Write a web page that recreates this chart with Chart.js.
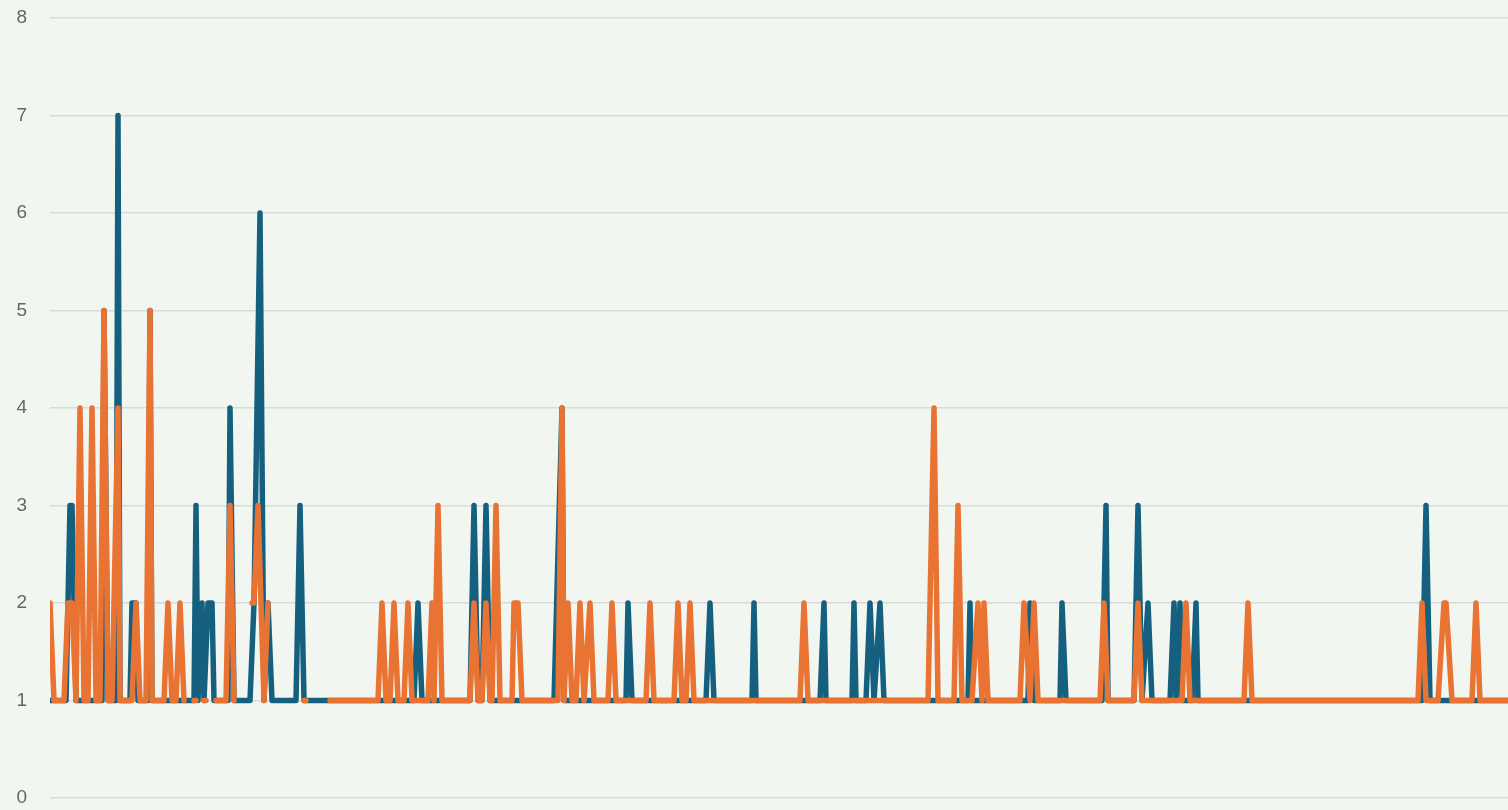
<!DOCTYPE html>
<html>
<head>
<meta charset="utf-8">
<script src="https://cdn.jsdelivr.net/npm/chart.js@4/dist/chart.umd.min.js"></script>
<style>
  html, body { margin: 0; padding: 0; background: #f2f6f1; }
  #wrap { width: 1508px; height: 810px; position: relative; }
</style>
</head>
<body>
<div id="wrap"><canvas id="chart"></canvas></div>
<script>
// sample index (0..729) and value at each vertex; the line is flat between listed vertices
const blueX = [0, 8, 10, 11, 13, 26, 27, 29, 33, 34, 35, 40, 41, 43, 44, 49, 50, 51,
  72, 73, 74, 76, 77, 79, 81, 82, 89, 90, 92, 100, 102, 105, 107, 109, 111,
  123, 125, 127, 182, 184, 186, 210, 212, 214, 216, 218, 220, 252, 256, 257,
  288, 289, 291, 328, 330, 332, 351, 352, 353, 385, 387, 388, 401, 402, 403,
  408, 410, 412, 415, 417, 459, 460, 461, 489, 490, 492, 505, 506, 508,
  526, 528, 529, 542, 544, 546, 549, 551, 560, 562, 563, 565, 566, 571, 573, 574,
  686, 688, 690, 729];
const blueY = [1, 1, 3, 3, 1, 1, 5, 1, 1, 7, 1, 1, 2, 2, 1, 1, 5, 1,
  1, 3, 1, 2, 1, 2, 2, 1, 1, 4, 1, 1, 2, 6, 1, 2, 1,
  1, 3, 1, 1, 2, 1, 1, 3, 1, 1, 3, 1, 1, 4, 1,
  1, 2, 1, 1, 2, 1, 1, 2, 1, 1, 2, 1, 1, 2, 1,
  1, 2, 1, 2, 1, 1, 2, 1, 1, 2, 1, 1, 2, 1,
  1, 3, 1, 1, 3, 1, 2, 1, 1, 2, 1, 2, 1, 1, 2, 1,
  1, 3, 1, 1];

// null = no reading (gap in the line)
const orangeX = [0, 2, 7, 9, 11, 13, 15, 17, 19, 21, 23, 25, 27, 29, 31, 34, 35,
  41, 43, 45, 48, 50, 51, 57, 59, 61, 63, 65, 67, 68, 72, 73, 75, 77, 78, 79,
  83, 88, 90, 92, 93, 101, 102, 104, 107, 109, 110, 127, 128, 129,
  140, 164, 166, 168, 170, 172, 174, 177, 179, 181, 189, 191, 192, 194, 196,
  210, 212, 214, 216, 218, 220, 221, 223, 225, 231, 232, 234, 236,
  254, 256, 257, 259, 261, 263, 265, 267, 270, 272, 279, 281, 283,
  298, 300, 302, 312, 314, 316, 318, 320, 322, 375, 377, 379,
  439, 442, 444, 452, 454, 456, 461, 464, 466, 467, 469,
  485, 487, 490, 492, 494, 525, 527, 529, 542, 544, 546, 566, 568, 570,
  597, 599, 601, 684, 686, 688, 694, 697, 698, 701, 711, 713, 715, 729];
const orangeY = [2, 1, 1, 2, 2, 1, 4, 1, 1, 4, 1, 1, 5, 1, 1, 4, 1,
  1, 2, 1, 1, 5, 1, 1, 2, 1, 1, 2, 1, null, 1, 1, null, 1, 1, null,
  1, 1, 3, 1, null, 2, 2, 3, 1, 2, null, 1, 1, null,
  1, 1, 2, 1, 1, 2, 1, 1, 2, 1, 1, 2, 1, 3, 1,
  1, 2, 1, 1, 2, 1, 1, 3, 1, 1, 2, 2, 1,
  1, 4, 1, 2, 1, 1, 2, 1, 2, 1, 1, 2, 1,
  1, 2, 1, 1, 2, 1, 1, 2, 1, 1, 2, 1,
  1, 4, 1, 1, 3, 1, 1, 2, 1, 2, 1,
  1, 2, 1, 2, 1, 1, 2, 1, 1, 2, 1, 1, 2, 1,
  1, 2, 1, 1, 2, 1, 1, 2, 2, 1, 1, 2, 1, 1];

const yTicks = [0, 1, 2, 3, 4, 5, 6, 7, 8];

function toPoints(xs, ys) {
  return xs.map((x, i) => ({ x: x, y: ys[i] }));
}

const lineStyle = {
  borderWidth: 5.5,
  pointRadius: 0,
  pointHoverRadius: 0,
  tension: 0,
  fill: false,
  spanGaps: false,
  borderCapStyle: 'round',
  borderJoinStyle: 'round'
};

new Chart(document.getElementById('chart'), {
  type: 'line',
  data: {
    datasets: [
      Object.assign({
        label: 'A',
        data: toPoints(blueX, blueY),
        borderColor: '#16607f',
        backgroundColor: '#16607f',
        order: 2
      }, lineStyle),
      Object.assign({
        label: 'B',
        data: toPoints(orangeX, orangeY),
        borderColor: '#e97332',
        backgroundColor: '#e97332',
        order: 1
      }, lineStyle)
    ]
  },
  options: {
    responsive: true,
    maintainAspectRatio: false,
    animation: false,
    layout: { padding: { left: 0, right: 0, top: 18, bottom: 12 } },
    plugins: {
      legend: { display: false },
      tooltip: { enabled: false }
    },
    scales: {
      x: {
        type: 'linear',
        min: 0,
        max: 729,
        display: false
      },
      y: {
        min: yTicks[0],
        max: yTicks[yTicks.length - 1],
        afterBuildTicks: function (axis) {
          axis.ticks = yTicks.map(v => ({ value: v }));
        },
        afterFit: function (axis) {
          axis.width = 50;
          axis.paddingTop = 0;
          axis.paddingBottom = 0;
        },
        border: { display: false },
        grid: { color: '#d8dbd8', lineWidth: 1.5, drawTicks: false },
        ticks: {
          padding: 23,
          color: '#666666',
          font: { family: 'Liberation Sans, Arial, sans-serif', size: 19 }
        }
      }
    }
  }
});
</script>
</body>
</html>
